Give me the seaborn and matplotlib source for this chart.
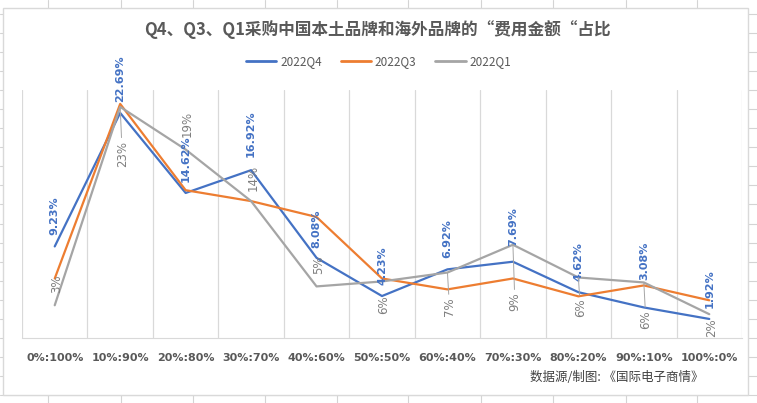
import seaborn as sns
import matplotlib.pyplot as plt
import matplotlib.patches as mpatches
import pandas as pd

categories = ["0%:100%", "10%:90%", "20%:80%", "30%:70%", "40%:60%", "50%:50%",
              "60%:40%", "70%:30%", "80%:20%", "90%:10%", "100%:0%"]
q4 = [9.23, 22.69, 14.62, 16.92, 8.08, 4.23, 6.92, 7.69, 4.62, 3.08, 1.92]
q3 = [6.0, 23.6, 14.9, 13.8, 12.2, 6.0, 4.9, 6.0, 4.2, 5.3, 3.8]
q1 = [3.3, 23.3, 19.0, 13.8, 5.2, 5.7, 6.6, 9.4, 6.1, 5.6, 2.4]
series_names = ["2022Q4", "2022Q3", "2022Q1"]
colors = {"2022Q4": "#4472C4", "2022Q3": "#ED7D31", "2022Q1": "#A5A5A5"}

title = "Q4、Q3、Q1采购中国本土品牌和海外品牌的“费用金额“占比"
source = "数据源/制图: 《国际电子商情》"

# label offsets in pixels (vertical)
q4_dy = [11, 11, 11, 13, 10, 11, 11, 16, 11, 27, 11]
q1_dy = [12, -34, 13, 10, 12, -14, -25, -48, -21, -28, -4]

sns.set_style("white")
plt.rcParams['font.family'] = ['Noto Sans CJK SC', 'DejaVu Sans']

W, H = 757, 403
fig = plt.figure(figsize=(W / 100, H / 100), dpi=100)

# spreadsheet background
bg = fig.add_axes([0, 0, 1, 1])
bg.set_xlim(0, W)
bg.set_ylim(H, 0)
bg.axis("off")
for x in [48, 121, 193, 265, 337, 408, 481, 553, 626, 697]:
    bg.plot([x, x], [0, H], color="#d4d4d4", lw=0.8)
for k in range(-5, 17):
    y = 90 + 19.08 * k
    bg.plot([0, W], [y, y], color="#d4d4d4", lw=0.8)
bg.add_patch(mpatches.Rectangle((3, 8), 745, 387, facecolor="white",
                                edgecolor="#d9d9d9", lw=1, zorder=5))

df = pd.DataFrame({"cat": categories, "2022Q4": q4, "2022Q3": q3, "2022Q1": q1})
long = df.melt(id_vars="cat", var_name="series", value_name="val")

left, right, top, bottom = 22, 742, 90, 338
ax = fig.add_axes([left / W, (H - bottom) / H, (right - left) / W, (bottom - top) / H])
ax.set_facecolor("none")
sns.lineplot(data=long, x="cat", y="val", hue="series", hue_order=series_names,
             palette=colors, sort=False, lw=1.6, ax=ax, zorder=3)

ax.set_xlim(-0.5, len(categories) - 0.5)
ax.set_ylim(0, 25)
ax.set_yticks([])
ax.set_xticks(range(len(categories)))
ax.set_xticks([i - 0.5 for i in range(len(categories) + 1)], minor=True)
ax.set_xticklabels(categories, fontsize=8, fontweight="bold", color="#595959",
                   family=["DejaVu Sans"])
ax.tick_params(axis="x", which="both", length=0, pad=11)
ax.grid(True, axis="x", which="minor", color="#d9d9d9", lw=0.9)
ax.grid(False, axis="x", which="major")
ax.set_xlabel("")
ax.set_ylabel("")
for s in ["top", "left", "right"]:
    ax.spines[s].set_visible(False)
ax.spines["bottom"].set_color("#d9d9d9")

for i, v in enumerate(q4):
    ax.annotate(f"{v:.2f}%", (i, v), xytext=(0, q4_dy[i]), textcoords="offset pixels",
                rotation=90, ha="center", va="bottom", fontsize=8, fontweight="bold",
                color="#4472C4", family=["DejaVu Sans"], zorder=6)
for i, v in enumerate(q1):
    dy = q1_dy[i]
    ax.annotate(f"{v:.0f}%", (i, v), xytext=(2, dy), textcoords="offset pixels",
                rotation=90, ha="center", va="bottom" if dy > 0 else "top",
                fontsize=8.5, color="#7f7f7f", family=["DejaVu Sans"], zorder=6,
                arrowprops=dict(arrowstyle="-", color="#a5a5a5", lw=0.7,
                                shrinkA=0, shrinkB=0) if abs(dy) > 15 else None)

leg = ax.legend(loc="center", bbox_to_anchor=(0.5, 1 - 62 / H),
                bbox_transform=fig.transFigure, ncol=3, frameon=False,
                fontsize=8.5, handlelength=2.6, columnspacing=1.6, handletextpad=0.3)
for t in leg.get_texts():
    t.set_color("#595959")
for l in leg.get_lines():
    l.set_linewidth(2)

fig.text(377 / W, 1 - 30 / H, title, ha="center", va="center", fontsize=12,
         fontweight="bold", color="#595959", zorder=10)
fig.text(704 / W, 1 - 377 / H, source, ha="right", va="center", fontsize=9,
         color="#404040", zorder=10)

fig.savefig("out.png", dpi=100)
